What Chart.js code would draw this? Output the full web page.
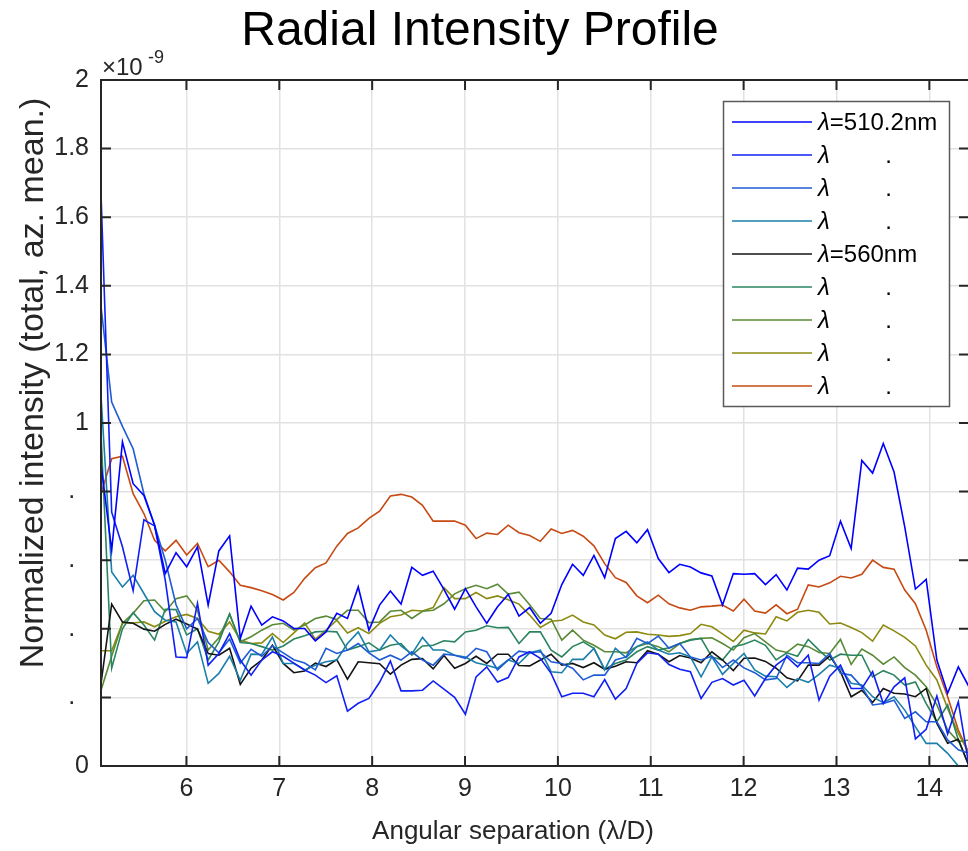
<!DOCTYPE html>
<html><head><meta charset="utf-8">
<script src="https://cdn.jsdelivr.net/npm/chart.js@4/dist/chart.umd.min.js"></script>
<style>html,body{margin:0;padding:0;background:#fff;overflow:hidden;}#wrap{width:976px;height:851px;}</style>
</head><body>
<div id="wrap"><canvas id="c" width="976" height="851"></canvas></div>
<script>
const chartTitle = 'Radial Intensity Profile';
const xTitle = 'Angular separation (λ/D)';
const yTitle = 'Normalized intensity (total, az. mean.)';
const yExponent = ['×10', '-9'];

const xValues = [5.080,5.195,5.311,5.426,5.542,5.657,5.772,5.888,6.003,6.119,6.234,6.349,6.465,6.580,6.696,6.811,6.926,7.042,7.157,7.273,7.388,7.503,7.619,7.734,7.850,7.965,8.080,8.196,8.311,8.427,8.542,8.657,8.773,8.888,9.004,9.119,9.234,9.350,9.465,9.581,9.696,9.811,9.927,10.042,10.158,10.273,10.388,10.504,10.619,10.735,10.850,10.965,11.081,11.196,11.312,11.427,11.542,11.658,11.773,11.889,12.004,12.119,12.235,12.350,12.466,12.581,12.696,12.812,12.927,13.043,13.158,13.273,13.389,13.504,13.620,13.735,13.850,13.966,14.081,14.197,14.312,14.427];
const xTickValues = [6,7,8,9,10,11,12,13,14];
const yTickValues = [0,0.2,0.4,0.6,0.8,1,1.2,1.4,1.6,1.8,2];
const yTickLabels = ['0','.  ','.  ','.  ','.  ','1','1.2','1.4','1.6','1.8','2'];

const seriesLabels = ['λ=510.2nm','λ        \u200a.','λ        \u200a.','λ        \u200a.','λ=560nm','λ        \u200a.','λ        \u200a.','λ        \u200a.','λ        \u200a.'];

const s1 = [0.88,0.629,0.945,0.823,0.789,0.702,0.561,0.622,0.581,0.639,
0.469,0.627,0.671,0.372,0.466,0.411,0.435,0.423,0.401,0.401,
0.365,0.391,0.445,0.430,0.522,0.396,0.469,0.510,0.472,0.579,
0.556,0.568,0.515,0.457,0.517,0.464,0.416,0.464,0.500,0.437,
0.462,0.416,0.445,0.529,0.588,0.556,0.614,0.549,0.663,0.684,
0.651,0.689,0.605,0.564,0.588,0.580,0.563,0.554,0.469,0.561,
0.559,0.561,0.529,0.558,0.513,0.577,0.574,0.600,0.613,0.714,
0.634,0.891,0.854,0.940,0.857,0.697,0.516,0.544,0.309,0.212,
0.289,0.231];
const s2 = [1.67,0.74,0.639,0.511,0.718,0.70,0.542,0.318,0.316,0.474,
0.294,0.328,0.386,0.309,0.265,0.309,0.333,0.32,0.30,0.28,
0.265,0.243,0.263,0.160,0.183,0.197,0.244,0.306,0.219,0.219,
0.221,0.248,0.224,0.200,0.151,0.260,0.289,0.245,0.258,0.318,
0.333,0.314,0.270,0.202,0.212,0.212,0.202,0.252,0.195,0.226,
0.299,0.330,0.326,0.296,0.282,0.275,0.197,0.244,0.255,0.236,
0.250,0.204,0.255,0.294,0.318,0.289,0.323,0.192,0.262,0.294,
0.226,0.226,0.275,0.182,0.231,0.257,0.079,0.107,0.204,0.093,
0.187,0.0];
const s3 = [1.34,1.061,0.99,0.925,0.794,0.702,0.60,0.47,0.40,0.43,
0.36,0.33,0.37,0.30,0.34,0.32,0.35,0.33,0.31,0.30,
0.280,0.343,0.328,0.338,0.357,0.330,0.309,0.323,0.309,0.333,
0.309,0.294,0.326,0.323,0.314,0.343,0.333,0.280,0.309,0.335,
0.330,0.333,0.304,0.299,0.285,0.251,0.265,0.265,0.309,0.318,
0.372,0.357,0.379,0.343,0.357,0.318,0.309,0.320,0.287,0.309,
0.286,0.272,0.251,0.255,0.323,0.301,0.301,0.299,0.328,0.270,
0.265,0.231,0.178,0.182,0.192,0.139,0.158,0.129,0.129,0.076,
0.047,0.037];
const s4 = [1.08,0.566,0.522,0.556,0.503,0.450,0.425,0.420,0.328,0.362,
0.241,0.270,0.320,0.25,0.326,0.325,0.376,0.299,0.299,0.280,
0.294,0.304,0.309,0.357,0.391,0.333,0.338,0.382,0.350,0.326,
0.375,0.338,0.338,0.323,0.318,0.301,0.294,0.285,0.309,0.299,
0.330,0.338,0.275,0.272,0.311,0.311,0.343,0.280,0.343,0.316,
0.348,0.362,0.338,0.326,0.330,0.318,0.260,0.318,0.267,0.299,
0.328,0.280,0.262,0.260,0.229,0.255,0.244,0.267,0.294,0.285,
0.241,0.236,0.202,0.184,0.202,0.163,0.114,0.066,0.066,0.037,
0.0,0.0];
const s5 = [0.24,0.472,0.420,0.416,0.399,0.393,0.413,0.428,0.414,0.399,
0.328,0.323,0.343,0.238,0.285,0.309,0.352,0.299,0.272,0.277,
0.300,0.290,0.310,0.253,0.304,0.301,0.298,0.268,0.294,0.311,
0.313,0.283,0.322,0.285,0.299,0.320,0.299,0.326,0.326,0.293,
0.292,0.309,0.326,0.294,0.299,0.287,0.301,0.282,0.291,0.304,
0.301,0.336,0.326,0.304,0.322,0.315,0.301,0.333,0.309,0.278,
0.314,0.315,0.305,0.285,0.257,0.248,0.294,0.294,0.321,0.275,
0.202,0.221,0.185,0.226,0.212,0.210,0.202,0.226,0.124,0.066,
0.078,0.0];
const s6 = [0.97,0.285,0.40,0.447,0.411,0.367,0.457,0.456,0.382,0.40,
0.309,0.362,0.443,0.36,0.357,0.348,0.338,0.35,0.37,0.38,
0.391,0.393,0.391,0.338,0.348,0.359,0.338,0.352,0.357,0.323,
0.350,0.352,0.365,0.362,0.391,0.396,0.409,0.403,0.404,0.357,
0.391,0.391,0.338,0.318,0.348,0.362,0.343,0.282,0.299,0.309,
0.333,0.348,0.338,0.345,0.357,0.367,0.372,0.318,0.309,0.348,
0.355,0.367,0.352,0.309,0.330,0.320,0.369,0.338,0.309,0.326,
0.323,0.323,0.260,0.278,0.265,0.236,0.245,0.182,0.129,0.178,
0.076,0.0];
const s7 = [0.221,0.32,0.416,0.445,0.482,0.484,0.450,0.488,0.496,0.454,
0.338,0.374,0.443,0.362,0.377,0.396,0.412,0.416,0.396,0.411,
0.430,0.437,0.427,0.454,0.454,0.418,0.420,0.451,0.454,0.430,
0.451,0.454,0.473,0.502,0.517,0.527,0.517,0.530,0.501,0.507,
0.470,0.430,0.428,0.367,0.396,0.367,0.352,0.333,0.333,0.330,
0.348,0.357,0.348,0.333,0.357,0.369,0.372,0.374,0.357,0.338,
0.374,0.386,0.362,0.338,0.331,0.355,0.348,0.331,0.328,0.369,
0.296,0.341,0.323,0.297,0.318,0.287,0.265,0.231,0.178,0.105,
0.071,0.076];
const s8 = [0.336,0.336,0.417,0.417,0.420,0.406,0.422,0.435,0.442,0.430,
0.393,0.384,0.420,0.367,0.357,0.359,0.386,0.360,0.388,0.417,
0.370,0.396,0.425,0.388,0.403,0.386,0.416,0.435,0.440,0.454,
0.452,0.462,0.520,0.488,0.488,0.506,0.488,0.496,0.485,0.472,
0.440,0.404,0.422,0.425,0.440,0.420,0.411,0.382,0.371,0.390,
0.391,0.384,0.382,0.378,0.380,0.386,0.413,0.406,0.385,0.363,
0.396,0.388,0.385,0.435,0.423,0.448,0.454,0.448,0.414,0.417,
0.404,0.389,0.364,0.411,0.394,0.375,0.350,0.294,0.251,0.168,
0.095,0.037];
const s9 = [0.794,0.896,0.903,0.794,0.736,0.658,0.627,0.658,0.615,0.649,
0.581,0.600,0.566,0.527,0.520,0.511,0.500,0.484,0.506,0.547,
0.578,0.592,0.641,0.678,0.694,0.722,0.743,0.787,0.792,0.784,
0.760,0.714,0.714,0.714,0.702,0.663,0.679,0.675,0.702,0.680,
0.672,0.655,0.691,0.678,0.687,0.670,0.642,0.590,0.549,0.535,
0.496,0.476,0.498,0.473,0.461,0.454,0.464,0.466,0.469,0.452,
0.486,0.452,0.446,0.470,0.444,0.457,0.528,0.522,0.534,0.553,
0.548,0.559,0.600,0.579,0.574,0.513,0.473,0.396,0.289,0.202,
0.105,0.037];

const seriesValues = [s1,s2,s3,s4,s5,s6,s7,s8,s9];
const seriesColors = ['#0000ff','#1020f4','#1f5bd4','#1a7faa','#141414','#2a8460','#5a8a35','#8c8a10','#c64a12'];

const FONT = "'Liberation Sans', Arial, Helvetica, sans-serif";
const AX = '#262626';

function drawLabel(ctx, text, x, y, size) {
  if (text.charAt(0) === 'λ') {
    ctx.font = 'italic ' + size + 'px ' + FONT;
    ctx.fillText('λ', x, y);
    const w = ctx.measureText('λ').width;
    ctx.font = size + 'px ' + FONT;
    ctx.fillText(text.slice(1), x + w, y);
  } else {
    ctx.font = size + 'px ' + FONT;
    ctx.fillText(text, x, y);
  }
}

const framePlugin = {
  id: 'frame',
  afterDraw(chart) {
    const ctx = chart.ctx;
    const {left, right, top, bottom} = chart.chartArea;
    const xs = chart.scales.x, ys = chart.scales.y;
    ctx.save();
    ctx.strokeStyle = AX; ctx.lineWidth = 2;
    ctx.beginPath(); ctx.rect(left, top, right - left, bottom - top); ctx.stroke();
    ctx.beginPath();
    for (const v of xTickValues) {
      const p = xs.getPixelForValue(v);
      ctx.moveTo(p, bottom); ctx.lineTo(p, bottom - 10);
      ctx.moveTo(p, top); ctx.lineTo(p, top + 10);
    }
    for (const v of yTickValues) {
      const p = ys.getPixelForValue(v);
      ctx.moveTo(left, p); ctx.lineTo(left + 10, p);
      ctx.moveTo(right, p); ctx.lineTo(right - 10, p);
    }
    ctx.stroke();
    ctx.fillStyle = '#000';
    ctx.font = '48px ' + FONT;
    ctx.textAlign = 'center'; ctx.textBaseline = 'alphabetic';
    ctx.fillText(chartTitle, 480, 45);
    ctx.fillStyle = AX;
    ctx.font = '26px ' + FONT;
    ctx.textBaseline = 'middle';
    ctx.fillText(xTitle, 513, 832);
    ctx.save();
    ctx.translate(34, 383); ctx.rotate(-Math.PI / 2);
    ctx.font = '34px ' + FONT;
    ctx.fillText(yTitle, 0, 0);
    ctx.restore();
    ctx.textAlign = 'left'; ctx.textBaseline = 'alphabetic';
    ctx.font = '24px ' + FONT;
    ctx.fillText(yExponent[0], 102, 75);
    ctx.font = '18px ' + FONT;
    ctx.fillText(yExponent[1], 148, 63);
    const bx = 723.5, by = 101.5, bw = 226, bh = 305;
    ctx.fillStyle = '#fff';
    ctx.fillRect(bx, by, bw, bh);
    ctx.strokeStyle = '#5a5a5a'; ctx.lineWidth = 1.5;
    ctx.strokeRect(bx, by, bw, bh);
    ctx.textBaseline = 'middle';
    chart.data.datasets.forEach((ds, k) => {
      const ly = 122 + 33 * k;
      ctx.strokeStyle = ds.borderColor; ctx.lineWidth = 1.6;
      ctx.beginPath(); ctx.moveTo(732, ly); ctx.lineTo(812, ly); ctx.stroke();
      ctx.fillStyle = '#000';
      drawLabel(ctx, ds.label, 818, ly + 1, 24);
    });
    ctx.restore();
  }
};

new Chart(document.getElementById('c'), {
  type: 'line',
  data: {
    datasets: seriesValues.map((s, k) => ({
      label: seriesLabels[k],
      data: xValues.map((x, i) => ({x: x, y: s[i]})),
      borderColor: seriesColors[k],
      borderWidth: 1.6,
      pointRadius: 0,
      fill: false,
      tension: 0
    }))
  },
  options: {
    responsive: false,
    animation: false,
    devicePixelRatio: 1,
    layout: {padding: {top: 80, right: 7, left: 0, bottom: 0}},
    plugins: {legend: {display: false}, title: {display: false}, tooltip: {enabled: false}},
    scales: {
      x: {
        type: 'linear', min: 5.08, max: 14.427,
        afterFit(s) { s.height = 85; },
        afterBuildTicks(s) { s.ticks = xTickValues.map(v => ({value: v})); },
        grid: {color: '#e2e2e2', lineWidth: 1.5, drawTicks: false},
        border: {display: false},
        ticks: {font: {family: FONT, size: 25}, color: AX, padding: 8, maxRotation: 0, autoSkip: false}
      },
      y: {
        type: 'linear', min: 0, max: 2,
        afterFit(s) { s.width = 101; },
        afterBuildTicks(s) { s.ticks = yTickValues.map(v => ({value: v})); },
        grid: {color: '#e2e2e2', lineWidth: 1.5, drawTicks: false},
        border: {display: false},
        ticks: {font: {family: FONT, size: 25}, color: AX, padding: 12, autoSkip: false,
          callback: (v, i) => yTickLabels[i]}
      }
    }
  },
  plugins: [framePlugin]
});
</script>
</body></html>
